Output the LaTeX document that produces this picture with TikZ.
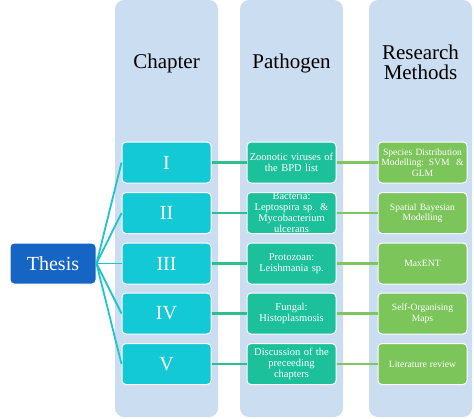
\documentclass[tikz,border=0pt]{standalone}
\usepackage{fontspec}
\setmainfont{Liberation Serif}
\usetikzlibrary{calc}

\definecolor{colbg}{HTML}{CBDDF0}
\definecolor{thesisc}{HTML}{1566C4}
\definecolor{chapc}{HTML}{12C9D5}
\definecolor{pathc}{HTML}{1CC19B}
\definecolor{methc}{HTML}{7CC55B}
\definecolor{lnchap}{HTML}{1EC4CE}
\definecolor{lnpath}{HTML}{30BE8A}
\definecolor{lnmeth}{HTML}{80C660}

\begin{document}
\begin{tikzpicture}[x=1pt,y=-1pt,
   column/.style={fill=colbg, rounded corners=9pt, minimum width=103pt, minimum height=417pt, inner sep=0pt},
   header/.style={align=center, font=\fontsize{21}{20}\selectfont},
   box/.style={draw=white, line width=1pt, rounded corners=4pt, text=white, inner sep=0pt, align=center, minimum width=89pt, minimum height=41pt, text width=89pt},
   chapbox/.style={box, fill=chapc, font=\fontsize{20}{20}\selectfont},
   pathbox/.style={box, fill=pathc, font=\fontsize{10.5}{11}\selectfont},
   methbox/.style={box, fill=methc, font=\fontsize{9.6}{10.5}\selectfont},
   lnc/.style={draw=lnchap, line width=1.8pt},
   lnp/.style={draw=lnpath, line width=2.2pt},
   lnm/.style={draw=lnmeth, line width=2.2pt}]
   % Frame
   \useasboundingbox (0,0) rectangle (474,418);

   \node[column] (col_1) at (166.5,208.5) {};
   \node[column] (col_2) at (291.5,208.5) {};
   \node[column] (col_3) at (420.5,208.5) {};

   \node[header] (h_1) at (166.5,63) {Chapter};
   \node[header] (h_2) at (291.5,63) {Pathogen};
   \node[header] (h_3) at (420.5,62) {Research\\Methods};

   \node[box, fill=thesisc, minimum width=86pt, text width=86pt, font=\fontsize{20}{20}\selectfont] (th) at (53,263.5) {Thesis};

   \node[chapbox] (ch_1) at (166.5,162.5) {I};
   \node[chapbox] (ch_2) at (166.5,213) {II};
   \node[chapbox] (ch_3) at (166.5,263.5) {III};
   \node[chapbox] (ch_4) at (166.5,313.5) {IV};
   \node[chapbox] (ch_5) at (166.5,364) {V};

   \node[pathbox] (pa_1) at (291.5,162.5) {Zoonotic viruses of\\the BPD list};
   \node[pathbox] (pa_2) at (291.5,213) {Bacteria:\\Leptospira sp. \&\\Mycobacterium\\ulcerans};
   \node[pathbox] (pa_3) at (291.5,263.5) {Protozoan:\\Leishmania sp.};
   \node[pathbox] (pa_4) at (291.5,313.5) {Fungal:\\Histoplasmosis};
   \node[pathbox] (pa_5) at (291.5,364) {Discussion of the\\preceeding\\chapters};

   \node[methbox] (me_1) at (422.5,162.5) {Species Distribution\\Modelling: SVM\ \ \&\\GLM};
   \node[methbox] (me_2) at (422.5,213) {Spatial Bayesian\\Modelling};
   \node[methbox] (me_3) at (422.5,263.5) {MaxENT};
   \node[methbox] (me_4) at (422.5,313.5) {Self-Organising\\Maps};
   \node[methbox] (me_5) at (422.5,364) {Literature review};

   \path[lnc] (th.east) to (ch_1.west);
   \path[lnc] (th.east) to (ch_2.west);
   \path[lnc] (th.east) to (ch_3.west);
   \path[lnc] (th.east) to (ch_4.west);
   \path[lnc] (th.east) to (ch_5.west);

   \path[lnp] (ch_1) to (pa_1);
   \path[lnp] (ch_2) to (pa_2);
   \path[lnp] (ch_3) to (pa_3);
   \path[lnp] (ch_4) to (pa_4);
   \path[lnp] (ch_5) to (pa_5);

   \path[lnm] (pa_1) to (me_1);
   \path[lnm] (pa_2) to (me_2);
   \path[lnm] (pa_3) to (me_3);
   \path[lnm] (pa_4) to (me_4);
   \path[lnm] (pa_5) to (me_5);

\end{tikzpicture}
\end{document}
